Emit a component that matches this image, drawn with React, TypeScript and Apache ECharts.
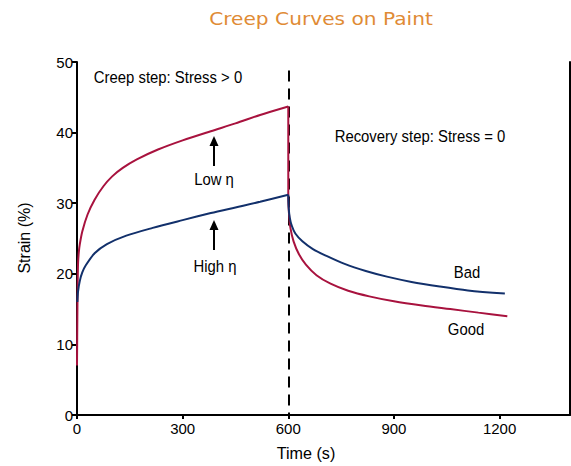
import React, { useEffect, useRef } from "react";
import * as echarts from "echarts";

const chartTitle = "Creep Curves on Paint";
const xTicks = [0, 300, 600, 900, 1200];
const yTicks = [0, 10, 20, 30, 40, 50];
const stepTime = 600;

// Low η (red): creep then "Good" recovery
const lowEta: [number, number][] = [
  [0, 7], [1, 14], [2, 19], [3, 21.5], [5, 23], [8, 24.2], [15, 26], [30, 28.4],
  [50, 30.5], [75, 32.4], [100, 33.8], [130, 35.0], [170, 36.2], [230, 37.6],
  [300, 38.9], [380, 40.2], [450, 41.3], [520, 42.5], [600, 43.7],
];
const goodRecovery: [number, number][] = [
  [600, 43.7], [600, 31], [602, 28.5], [606, 26.5], [615, 24.6], [630, 22.8],
  [650, 21.3], [680, 19.8], [720, 18.6], [770, 17.6], [830, 16.8], [900, 16.1],
  [980, 15.5], [1060, 15.0], [1140, 14.5], [1222, 14.0],
];
// High η (blue): creep then "Bad" recovery
const highEta: [number, number][] = [
  [1, 16], [3, 17.5], [8, 19], [15, 20.2], [25, 21.2], [50, 22.9], [85, 24.2],
  [140, 25.4], [215, 26.5], [300, 27.6], [380, 28.6], [450, 29.4], [520, 30.2],
  [600, 31.2],
];
const badRecovery: [number, number][] = [
  [600, 31.2], [601, 29.5], [604, 28], [610, 26.8], [620, 25.7], [640, 24.6],
  [670, 23.5], [710, 22.5], [760, 21.4], [820, 20.4], [880, 19.6], [950, 18.85],
  [1030, 18.2], [1110, 17.65], [1215, 17.2],
];

const RED = "#A8123E";
const BLUE = "#12306B";
const FONT = "'Liberation Sans', Arial, sans-serif";

export default function App() {
  const ref = useRef<HTMLDivElement>(null);
  useEffect(() => {
    if (!ref.current) return;
    const chart = echarts.init(ref.current, null, { renderer: "svg" });
    const lineSeries = (name: string, data: [number, number][], color: string) => ({
      name,
      type: "line",
      data,
      showSymbol: false,
      smooth: 0.3,
      lineStyle: { color, width: 2 },
      itemStyle: { color },
      z: 3,
    });
    const text = (t: string, x: number, y: number, size = 17, sx = 0.875) => ({
      type: "text",
      x,
      y,
      scaleX: sx,
      style: { text: t, font: `${size}px ${FONT}`, fill: "#000", align: "center", verticalAlign: "middle" },
    });
    const arrow = (x: number, top: number, bottom: number) => ({
      type: "group",
      children: [
        { type: "line", shape: { x1: x, y1: top + 8, x2: x, y2: bottom }, style: { stroke: "#000", lineWidth: 2 } },
        { type: "polygon", shape: { points: [[x, top], [x - 4.5, top + 10], [x + 4.5, top + 10]] }, style: { fill: "#000" } },
      ],
    });
    chart.setOption({
      animation: false,
      grid: { left: 77, right: 1, top: 62, bottom: 51, containLabel: false },
      xAxis: {
        type: "value",
        min: 0,
        max: 1400,
        axisLine: { show: true, onZero: false, lineStyle: { color: "#000", width: 2 } },
        axisTick: { show: true, length: 4, customValues: xTicks, lineStyle: { color: "#000", width: 2 } },
        axisLabel: {
          customValues: xTicks,
          formatter: (v: number) => String(v),
          color: "#000",
          fontSize: 15,
          fontFamily: FONT,
          margin: 6,
        },
        splitLine: { show: false },
      },
      yAxis: [
        {
          type: "value",
          min: 0,
          max: 50,
          interval: 10,
          axisLine: { show: true, lineStyle: { color: "#000", width: 2 } },
          axisTick: { show: true, length: 5, customValues: yTicks, lineStyle: { color: "#000", width: 2 } },
          axisLabel: { customValues: yTicks, color: "#000", fontSize: 15, fontFamily: FONT, margin: 4 },
          splitLine: { show: false },
        },
        {
          type: "value",
          min: 0,
          max: 50,
          position: "right",
          axisLine: { show: true, lineStyle: { color: "#000", width: 2 } },
          axisTick: { show: false },
          axisLabel: { show: false },
          splitLine: { show: false },
        },
      ],
      series: [
        {
          ...lineSeries("Low η", lowEta, RED),
          markLine: {
            silent: true,
            symbol: "none",
            label: { show: false },
            lineStyle: { color: "#000", type: [11, 7], width: 2 },
            data: [[{ coord: [stepTime, 48.8] }, { coord: [stepTime, 0] }]],
            z: 2,
          },
        },
        lineSeries("Good", goodRecovery, RED),
        lineSeries("High η", highEta, BLUE),
        lineSeries("Bad", badRecovery, BLUE),
      ],
      graphic: [
        {
          type: "text",
          x: 321,
          y: 19,
          scaleX: 1.12,
          style: {
            text: chartTitle,
            font: "18px 'DejaVu Sans', sans-serif",
            fill: "#E08B35",
            align: "center",
            verticalAlign: "middle",
          },
        },
        text("Creep step: Stress > 0", 168, 77),
        text("Recovery step: Stress = 0", 420, 136),
        text("Low η", 214, 179),
        text("High η", 215, 266),
        text("Bad", 467, 272),
        text("Good", 466, 329),
        arrow(214, 136, 166),
        arrow(214, 220, 250),
        {
          type: "text",
          x: 24,
          y: 238,
          rotation: Math.PI / 2,
          style: { text: "Strain (%)", font: `16px ${FONT}`, fill: "#000", align: "center", verticalAlign: "middle" },
        },
        text("Time (s)", 306, 453, 17, 0.95),
      ],
    });
    return () => chart.dispose();
  }, []);
  return (
    <div
      ref={ref}
      style={{ position: "fixed", left: 0, top: 0, width: 571, height: 466, background: "#fff" }}
    />
  );
}
